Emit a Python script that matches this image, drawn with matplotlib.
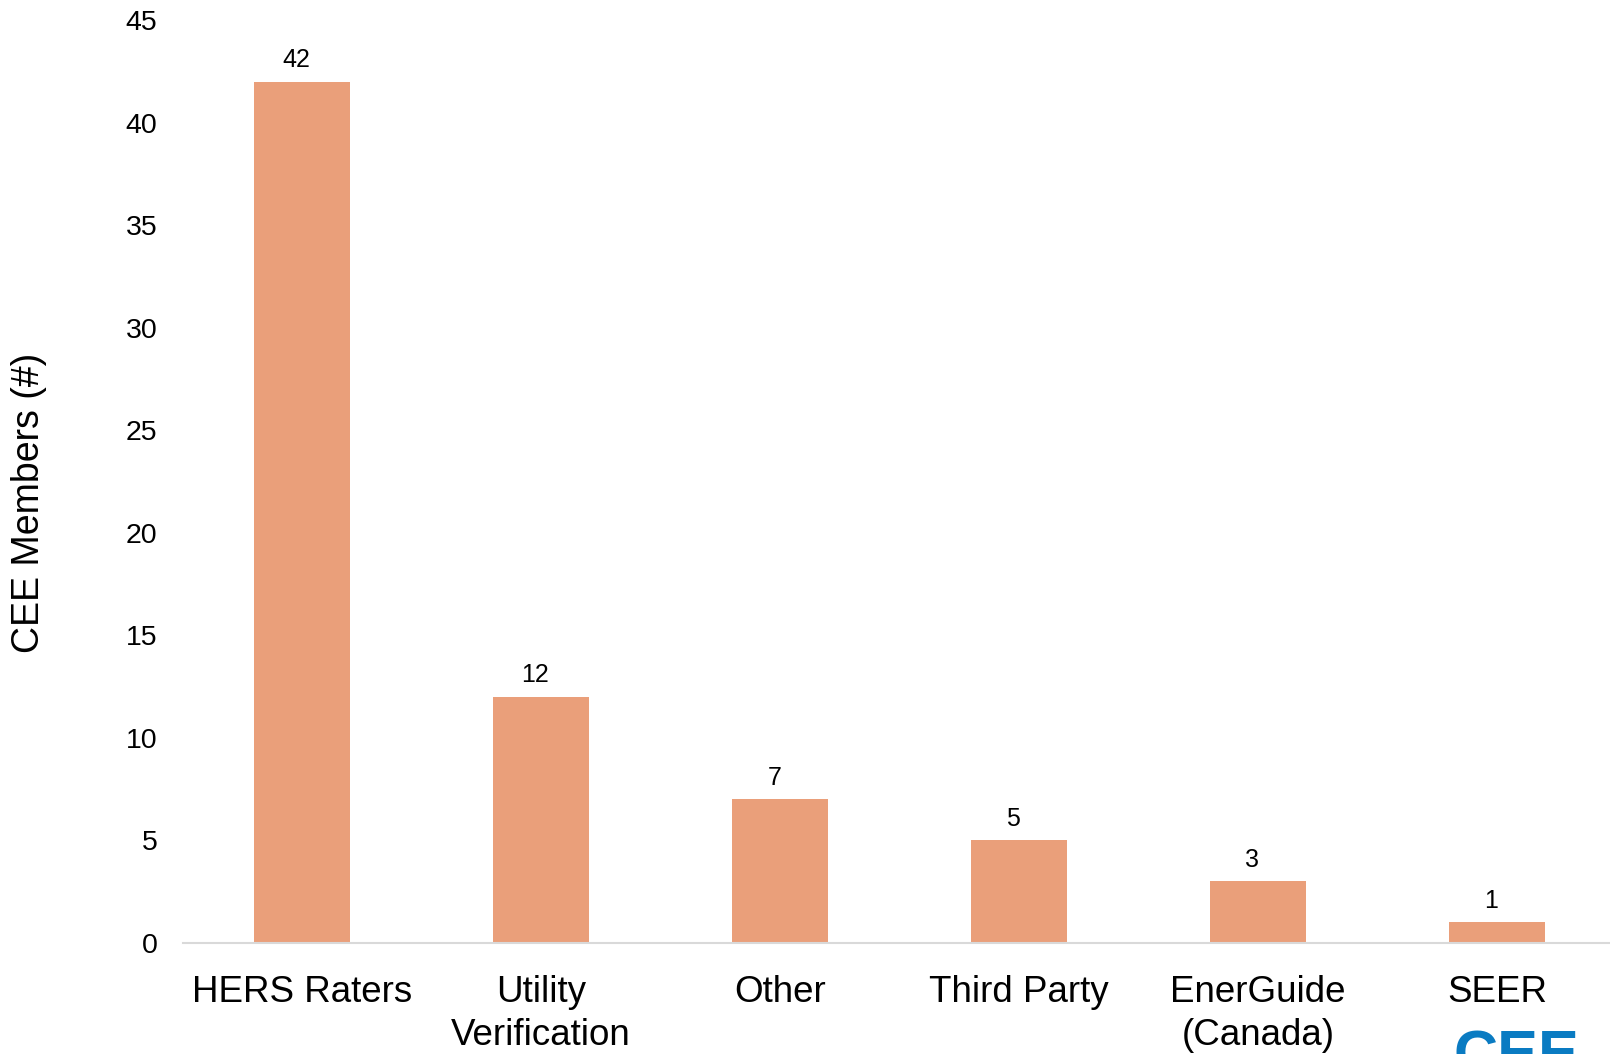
import matplotlib.pyplot as plt

plt.rcParams['font.family'] = ['Liberation Sans', 'DejaVu Sans']

categories = ['HERS Raters', 'Utility\nVerification', 'Other', 'Third Party',
              'EnerGuide\n(Canada)', 'SEER']
members = [42, 12, 7, 5, 3, 1]

W, H = 1610, 1054
fig = plt.figure(figsize=(W / 100, H / 100), dpi=100)
# axes box in pixels: left 182.5, bottom (zero line) 943, top (45) 20, 239 px per category
ax = fig.add_axes([182.5 / W, (H - 943) / H, 6 * 239 / W, (943 - 20) / H])

x = list(range(len(categories)))
bars = ax.bar(x, members, width=0.4, color='#EA9F7A', zorder=2)

for xi, v in zip(x, members):
    ax.annotate(str(v), (xi, v), xytext=(-4, 7), textcoords='offset points',
                ha='center', va='bottom', fontsize=18)

ax.set_xlim(-0.5, 5.5)
ax.set_ylim(0, 45)
ax.set_yticks(range(0, 46, 5))
ax.set_xticks(x)
ax.set_xticklabels(categories, fontsize=26.5, linespacing=1.28)
ax.tick_params(axis='y', labelsize=20.5, length=0, pad=18)
ax.tick_params(axis='x', length=0, pad=23)

for s in ['top', 'right', 'left']:
    ax.spines[s].set_visible(False)
ax.spines['bottom'].set_color('#D9D9D9')
ax.spines['bottom'].set_linewidth(1.5)

fig.text(29 / W, 1 - 503 / H, 'CEE Members (#)', rotation=90, fontsize=27,
         ha='center', va='center')

# logo, cut off at the bottom edge as in the source slide
fig.text(1453 / W, 1 - 1030 / H, 'CEE', fontsize=44, fontweight='bold',
         color='#0A7BC2', ha='left', va='top')

fig.savefig('out.png', dpi=100)
